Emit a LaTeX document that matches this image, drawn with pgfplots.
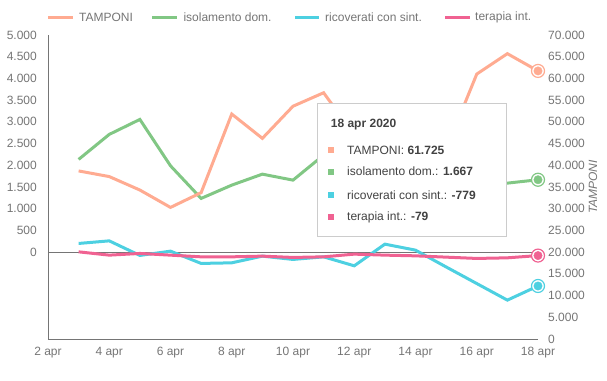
\documentclass[border=0pt]{standalone}
\usepackage{pgfplots}
\pgfplotsset{compat=1.18}
\usepackage{fontspec}
\setmainfont{Liberation Sans}
\usetikzlibrary{shadows}
\definecolor{ctam}{HTML}{FFAB91}
\definecolor{ciso}{HTML}{81C784}
\definecolor{cric}{HTML}{4DD0E1}
\definecolor{cter}{HTML}{F06292}
\definecolor{ctxt}{HTML}{757575}
\definecolor{caxis}{HTML}{757575}
\definecolor{ctip}{HTML}{424242}
\begin{document}
\begin{tikzpicture}
\path[use as bounding box] (-48pt,-41pt) rectangle (559pt,339pt);
\pgfplotsset{
  base/.style={
    scale only axis, width=490pt, height=304pt,
    xmin=2, xmax=18,
    xtick={2,4,...,18},
    xticklabels={2 apr,4 apr,6 apr,8 apr,10 apr,12 apr,14 apr,16 apr,18 apr},
    major tick length=0pt,
    tick label style={font=\fontsize{12}{14}\selectfont, text=ctxt},
    /pgf/number format/assume math mode=true,
    /pgf/number format/.cd, fixed, precision=0, 1000 sep={.},
    /pgfplots/.cd,
    scaled y ticks=false,
    clip=false,
  }
}
\begin{axis}[base,
  ymin=-2000, ymax=5000,
  ytick={0,500,...,5000},
  axis x line*=bottom, axis y line*=left,
  axis line style={draw=caxis, line width=0.9pt, -},
  xticklabel style={inner sep=0pt, anchor=north, yshift=-8pt},
  yticklabel style={inner sep=0pt, anchor=east, xshift=-11pt},
]
\draw[caxis, line width=0.8pt] (axis cs:2,0) -- (axis cs:18,0);
\addplot[ciso, line width=3pt, mark=none] coordinates {
(3,2135) (4,2711) (5,3056) (6,1988) (7,1237) (8,1543) (9,1796) (10,1658)
(11,2234) (12,2450) (13,1850) (14,1350) (15,1800) (16,1500) (17,1589) (18,1667)};
\addplot[cric, line width=3pt, mark=none] coordinates {
(3,200) (4,260) (5,-76) (6,23) (7,-260) (8,-246) (9,-92) (10,-168)
(11,-108) (12,-315) (13,184) (14,46) (15,-341) (16,-723) (17,-1105) (18,-779)};
\addplot[cter, line width=3pt, mark=none] coordinates {
(3,7) (4,-69) (5,-30) (6,-69) (7,-108) (8,-108) (9,-92) (10,-122)
(11,-108) (12,-46) (13,-69) (14,-85) (15,-115) (16,-145) (17,-131) (18,-79)};
\addplot[ciso, only marks, mark=*, mark size=6.5pt, mark options={fill=white, draw=ciso, line width=1.2pt}] coordinates {(18,1667)};
\addplot[ciso, only marks, mark=*, mark size=4.2pt, mark options={fill=ciso, draw=none}] coordinates {(18,1667)};
\addplot[cric, only marks, mark=*, mark size=6.5pt, mark options={fill=white, draw=cric, line width=1.2pt}] coordinates {(18,-779)};
\addplot[cric, only marks, mark=*, mark size=4.2pt, mark options={fill=cric, draw=none}] coordinates {(18,-779)};
\addplot[cter, only marks, mark=*, mark size=6.5pt, mark options={fill=white, draw=cter, line width=1.2pt}] coordinates {(18,-79)};
\addplot[cter, only marks, mark=*, mark size=4.2pt, mark options={fill=cter, draw=none}] coordinates {(18,-79)};
\end{axis}
\begin{axis}[base,
  ymin=0, ymax=70000,
  ytick={0,5000,...,70000},
  axis x line=none, axis y line*=right,
  y axis line style={draw=none},
  yticklabel style={inner sep=0pt, anchor=west, xshift=10pt},
]
\addplot[ctam, line width=3pt, mark=none] coordinates {
(3,38700) (4,37400) (5,34300) (6,30300) (7,33700) (8,51800) (9,46200) (10,53600)
(11,56700) (12,47000) (13,25600) (14,36700) (15,43700) (16,61000) (17,65700) (18,61725)};
\addplot[ctam, only marks, mark=*, mark size=6.5pt, mark options={fill=white, draw=ctam, line width=1.2pt}] coordinates {(18,61725)};
\addplot[ctam, only marks, mark=*, mark size=4.2pt, mark options={fill=ctam, draw=none}] coordinates {(18,61725)};
\end{axis}
% right axis title
\node[rotate=90, font=\fontsize{12}{14}\selectfont\itshape, text=ctxt] at (545pt,152pt) {TAMPONI};
% legend
\begin{scope}[font=\fontsize{12}{14}\selectfont]
\draw[ctam, line width=3.5pt] (0.3pt,321.3pt) -- (24.7pt,321.3pt);
\node[anchor=west, inner sep=0pt, text=ctxt] at (31pt,321.3pt) {TAMPONI};
\draw[ciso, line width=3.5pt] (104.3pt,321.3pt) -- (128.7pt,321.3pt);
\node[anchor=west, inner sep=0pt, text=ctxt] at (135.3pt,321.3pt) {isolamento dom.};
\draw[cric, line width=3.5pt] (247pt,321.3pt) -- (271pt,321.3pt);
\node[anchor=west, inner sep=0pt, text=ctxt] at (277pt,321.3pt) {ricoverati con sint.};
\draw[cter, line width=3.5pt] (397pt,321.3pt) -- (422pt,321.3pt);
\node[anchor=west, inner sep=0pt, text=ctxt] at (427pt,321.3pt) {terapia int.};
\end{scope}
% tooltip
\draw[draw=black!20, fill=white, line width=0.6pt, drop shadow={shadow xshift=1pt, shadow yshift=-1.2pt, opacity=0.18}] (269pt,103pt) rectangle (458pt,236pt);
\begin{scope}[font=\fontsize{12}{14}\selectfont]
\node[anchor=base west, inner sep=0pt, text=ctip, font=\fontsize{12}{14}\selectfont\bfseries] at (282.7pt,211.5pt) {18 apr 2020};
\fill[ctam] (280pt,186pt) rectangle (286pt,192pt);
\node[anchor=west, inner sep=0pt, text=ctip] at (299pt,189pt) {TAMPONI: \textbf{61.725}};
\fill[ciso] (280pt,164.3pt) rectangle (286pt,170.3pt);
\node[anchor=west, inner sep=0pt, text=ctip] at (299pt,167.3pt) {isolamento dom.: \textbf{1.667}};
\fill[cric] (280pt,141pt) rectangle (286pt,147pt);
\node[anchor=west, inner sep=0pt, text=ctip] at (299pt,144pt) {ricoverati con sint.: \textbf{-779}};
\fill[cter] (280pt,118.7pt) rectangle (286pt,124.7pt);
\node[anchor=west, inner sep=0pt, text=ctip] at (299pt,121.7pt) {terapia int.: \textbf{-79}};
\end{scope}
\end{tikzpicture}
\end{document}
